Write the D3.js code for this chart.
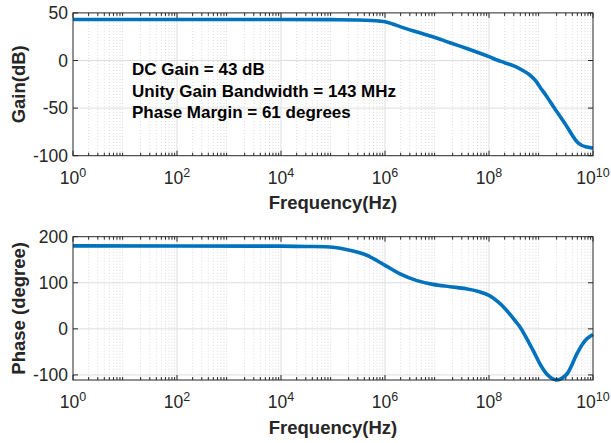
<!DOCTYPE html>
<html>
<head>
<meta charset="utf-8">
<script src="https://cdn.jsdelivr.net/npm/d3@7"></script>
<style>
  html, body { margin: 0; padding: 0; background: #fff; }
  svg { display: block; font-family: "Liberation Sans", Arial, Helvetica, sans-serif; }
</style>
</head>
<body>
<svg id="chart" width="611" height="443"></svg>
<script>
// ---------- data ----------
const gainFreq = [1, 1e4, 1e5, 3.16e5, 5.62e5, 7.94e5, 1e6, 1.41e6, 2e6, 3.98e6, 8.32e6, 1.78e7, 3.63e7, 1e8, 1.43e8, 2e8, 3.16e8, 4.47e8, 6.17e8, 7.94e8, 9.55e8, 1.26e9, 1.74e9, 3.16e9, 4.17e9, 4.9e9, 6.03e9, 7.59e9, 1e10];
const gainDB   = [43, 43, 42.9, 42.6, 42.0, 41.4, 40.7, 38.3, 35.3, 30.2, 25, 18.6, 12.8, 4.0, 0.5, -2.3, -6.2, -10.5, -15.5, -21.5, -27.8, -37, -48.5, -69.5, -80, -85.3, -89, -90.8, -92.2];

const phaseFreq = [1, 1e4, 3.16e4, 1e5, 2e5, 4.47e5, 1e6, 1.9e6, 3.98e6, 8.32e6, 1.78e7, 3.63e7, 6.31e7, 1e8, 1.48e8, 2.19e8, 3.16e8, 3.98e8, 7.08e8, 1e9, 1.29e9, 1.58e9, 1.95e9, 2.4e9, 3.16e9, 4.9e9, 6.31e9, 7.59e9, 1e10];
const phaseDeg  = [180, 179.5, 178.8, 177, 171, 159.7, 137.9, 119.8, 105.2, 96.5, 91.5, 87, 81, 72.5, 59, 40, 18, 3.5, -47.3, -80, -98, -106.5, -110.8, -108.5, -98, -54.5, -33, -21.8, -12.4];

const xMajorTicks = [1, 1e2, 1e4, 1e6, 1e8, 1e10];
const xTickExp    = ["0", "2", "4", "6", "8", "10"];
const gainTicks   = [-100, -50, 0, 50];
const phaseTicks  = [-100, 0, 100, 200];

const annotations = ["DC Gain = 43 dB", "Unity Gain Bandwidth = 143 MHz", "Phase Margin = 61 degrees"];
const xLabel = "Frequency(Hz)";
const gainLabel = "Gain(dB)";
const phaseLabel = "Phase (degree)";

// ---------- drawing ----------
const svg = d3.select("#chart");
const axisColor = "#262626";
const lineColor = "#0072BD";
const left = 73, right = 593;

const x = d3.scaleLog().domain([1, 1e10]).range([left, right]);

// minor tick values
const minorTicks = [];
for (let e = 0; e < 10; e++) {
  for (let m = 2; m <= 9; m++) minorTicks.push(m * Math.pow(10, e));
}

function panel(top, bottom, yDomain, yTicks, freqs, vals, yLab, labBaselineY) {
  const y = d3.scaleLinear().domain(yDomain).range([bottom, top]);
  const g = svg.append("g");

  // minor grid (dotted)
  g.append("g").selectAll("line").data(minorTicks).join("line")
    .attr("x1", d => x(d)).attr("x2", d => x(d))
    .attr("y1", top).attr("y2", bottom)
    .attr("stroke", "#d9d9d9").attr("stroke-width", 1)
    .attr("stroke-dasharray", "1,2");

  // major grid x
  g.append("g").selectAll("line").data(xMajorTicks.slice(1, -1)).join("line")
    .attr("x1", d => x(d)).attr("x2", d => x(d))
    .attr("y1", top).attr("y2", bottom)
    .attr("stroke", "#dedede").attr("stroke-width", 1);

  // major grid y
  g.append("g").selectAll("line").data(yTicks.filter(t => y(t) > top + 1 && y(t) < bottom - 1)).join("line")
    .attr("x1", left).attr("x2", right)
    .attr("y1", d => y(d)).attr("y2", d => y(d))
    .attr("stroke", "#dedede").attr("stroke-width", 1);

  // curve
  const line = d3.line().x((d, i) => x(freqs[i])).y(d => y(d)).curve(d3.curveCatmullRom.alpha(0.5));
  g.append("path").datum(vals)
    .attr("d", line)
    .attr("fill", "none")
    .attr("stroke", lineColor)
    .attr("stroke-width", 3.6)
    .attr("stroke-linejoin", "round");

  // axis box
  g.append("rect").attr("x", left).attr("y", top)
    .attr("width", right - left).attr("height", bottom - top)
    .attr("fill", "none").attr("stroke", axisColor).attr("stroke-width", 1);

  // ticks: x major and minor, top and bottom, inward
  const ticks = g.append("g").attr("stroke", axisColor).attr("stroke-width", 1);
  xMajorTicks.forEach(t => {
    ticks.append("line").attr("x1", x(t)).attr("x2", x(t)).attr("y1", bottom).attr("y2", bottom - 5);
    ticks.append("line").attr("x1", x(t)).attr("x2", x(t)).attr("y1", top).attr("y2", top + 5);
  });
  minorTicks.forEach(t => {
    ticks.append("line").attr("x1", x(t)).attr("x2", x(t)).attr("y1", bottom).attr("y2", bottom - 3);
    ticks.append("line").attr("x1", x(t)).attr("x2", x(t)).attr("y1", top).attr("y2", top + 3);
  });
  yTicks.forEach(t => {
    ticks.append("line").attr("x1", left).attr("x2", left + 5).attr("y1", y(t)).attr("y2", y(t));
    ticks.append("line").attr("x1", right).attr("x2", right - 5).attr("y1", y(t)).attr("y2", y(t));
  });

  // y tick labels
  g.append("g").selectAll("text").data(yTicks).join("text")
    .attr("x", left - 5).attr("y", d => y(d))
    .attr("dy", "0.36em")
    .attr("text-anchor", "end")
    .attr("fill", axisColor)
    .attr("font-size", 17.5)
    .text(d => d);

  // x tick labels (10^n)
  const xl = g.append("g");
  xMajorTicks.forEach((t, i) => {
    const txt = xl.append("text")
      .attr("x", x(t)).attr("y", bottom + 28)
      .attr("text-anchor", "middle")
      .attr("fill", axisColor)
      .attr("font-size", 17.5);
    txt.append("tspan").text("10");
    txt.append("tspan").attr("font-size", 12.5).attr("dy", -7).text(xTickExp[i]);
  });

  // x label
  g.append("text")
    .attr("x", (left + right) / 2).attr("y", labBaselineY)
    .attr("text-anchor", "middle")
    .attr("font-weight", "bold").attr("font-size", 18.5)
    .attr("fill", axisColor)
    .text(xLabel);

  // y label
  g.append("text")
    .attr("transform", `translate(25,${(top + bottom) / 2}) rotate(-90)`)
    .attr("text-anchor", "middle")
    .attr("font-weight", "bold").attr("font-size", 18.5)
    .attr("fill", axisColor)
    .text(yLab);

  return y;
}

panel(12.9, 155.7, [-100, 50], gainTicks, gainFreq, gainDB, gainLabel, 208.5);
panel(236.7, 380, [-111, 200], phaseTicks, phaseFreq, phaseDeg, phaseLabel, 433.5);

// annotation text
svg.append("g").selectAll("text").data(annotations).join("text")
  .attr("x", 132)
  .attr("y", (d, i) => 75 + i * 21.7)
  .attr("font-weight", "bold")
  .attr("font-size", 17)
  .attr("fill", "#000")
  .text(d => d);
</script>
</body>
</html>
